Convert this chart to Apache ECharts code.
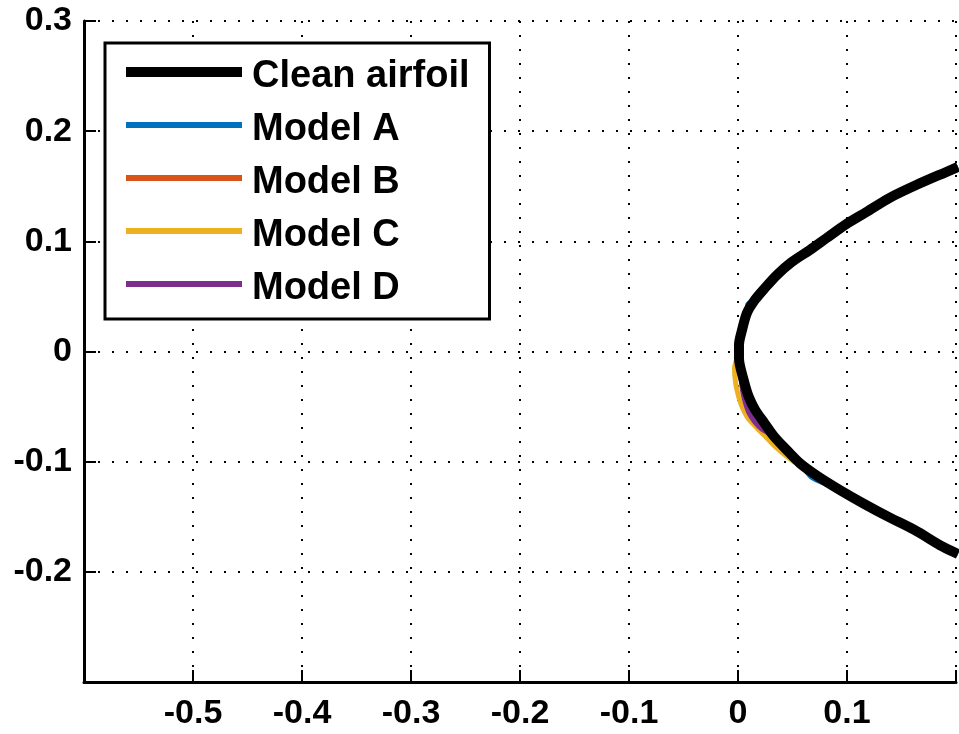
<!DOCTYPE html>
<html>
<head>
<meta charset="utf-8">
<script src="https://cdn.jsdelivr.net/npm/echarts@6/dist/echarts.min.js"></script>
<style>
  html, body { margin: 0; padding: 0; background: #ffffff; }
  #chart { width: 959px; height: 734px; }
</style>
</head>
<body>
<div id="chart"></div>
<script>
// Leading-edge region of the airfoil, upper surface (right to left) then lower surface
const cleanX = [0.2018, 0.1909, 0.1635, 0.1388, 0.1178, 0.0995, 0.0813, 0.0658, 0.0493, 0.0356, 0.0247, 0.0155, 0.0082, 0.0037, 0.0009,
                0.0009, 0.0052, 0.0098, 0.0158, 0.0244, 0.0332, 0.0447, 0.0569, 0.0737, 0.0934, 0.1148, 0.1376, 0.1619, 0.1878, 0.2018];
const cleanY = [0.1675, 0.1629, 0.1511, 0.1393, 0.1266, 0.1157, 0.1030, 0.0921, 0.0812, 0.0694, 0.0576, 0.0468, 0.0350, 0.0195, 0.0059,
                -0.0059, -0.0259, -0.0410, -0.0531, -0.0652, -0.0773, -0.0894, -0.1015, -0.1136, -0.1257, -0.1378, -0.1499, -0.1620, -0.1772, -0.1838];

// Ice shape predictions
const modelAX = [0.2018, 0.1909, 0.1635, 0.1388, 0.1178, 0.0995, 0.0813, 0.0658, 0.0493, 0.0356, 0.0247, 0.0155, 0.0091, 0.0082, 0.0037, 0.0009,
                 0.0009, 0.0052, 0.0098, 0.0158, 0.0244, 0.0332, 0.0447, 0.0569, 0.0667, 0.0731, 0.0934, 0.1148, 0.1376, 0.1619, 0.1878, 0.2018];
const modelAY = [0.1675, 0.1629, 0.1511, 0.1393, 0.1266, 0.1157, 0.1030, 0.0921, 0.0812, 0.0694, 0.0576, 0.0468, 0.0431, 0.0350, 0.0195, 0.0059,
                 -0.0059, -0.0259, -0.0410, -0.0531, -0.0652, -0.0773, -0.0894, -0.1015, -0.1134, -0.1171, -0.1257, -0.1378, -0.1499, -0.1620, -0.1772, -0.1838];

const modelBX = [0.2018, 0.1909, 0.1635, 0.1388, 0.1178, 0.0995, 0.0813, 0.0658, 0.0493, 0.0356, 0.0247, 0.0155, 0.0082, 0.0037, 0.0010,
                 0.0010, 0.0050, 0.0096, 0.0156, 0.0242, 0.0330, 0.0445, 0.0569, 0.0737, 0.0934, 0.1148, 0.1376, 0.1619, 0.1878, 0.2018];
const modelBY = [0.1675, 0.1629, 0.1511, 0.1393, 0.1266, 0.1157, 0.1030, 0.0921, 0.0812, 0.0694, 0.0576, 0.0468, 0.0350, 0.0195, 0.0059,
                 -0.0059, -0.0262, -0.0414, -0.0535, -0.0656, -0.0776, -0.0896, -0.1016, -0.1136, -0.1257, -0.1378, -0.1499, -0.1620, -0.1772, -0.1838];

const modelCX = [0.2018, 0.1909, 0.1635, 0.1388, 0.1178, 0.0995, 0.0813, 0.0658, 0.0493, 0.0356, 0.0247, 0.0155, 0.0082, 0.0037, 0.0009,
                 -0.0009, -0.0032, -0.0023, -0.0005, 0.0018, 0.0046, 0.0091, 0.0174, 0.0265, 0.0356, 0.0466, 0.0575,
                 0.0737, 0.0934, 0.1148, 0.1376, 0.1619, 0.1878, 0.2018];
const modelCY = [0.1675, 0.1629, 0.1511, 0.1393, 0.1266, 0.1157, 0.1030, 0.0921, 0.0812, 0.0694, 0.0576, 0.0468, 0.0350, 0.0195, 0.0059,
                 -0.0059, -0.0150, -0.0277, -0.0368, -0.0449, -0.0522, -0.0604, -0.0694, -0.0785, -0.0876, -0.0967, -0.1039,
                 -0.1136, -0.1257, -0.1378, -0.1499, -0.1620, -0.1772, -0.1838];

const modelDX = [0.2018, 0.1909, 0.1635, 0.1388, 0.1178, 0.0995, 0.0813, 0.0658, 0.0493, 0.0356, 0.0247, 0.0155, 0.0082, 0.0037, 0.0009,
                 0.0009, 0.0030, 0.0045, 0.0068, 0.0100, 0.0150, 0.0220,
                 0.0332, 0.0447, 0.0569, 0.0737, 0.0934, 0.1148, 0.1376, 0.1619, 0.1878, 0.2018];
const modelDY = [0.1675, 0.1629, 0.1511, 0.1393, 0.1266, 0.1157, 0.1030, 0.0921, 0.0812, 0.0694, 0.0576, 0.0468, 0.0350, 0.0195, 0.0059,
                 -0.0059, -0.0262, -0.0372, -0.0465, -0.0556, -0.0635, -0.0705,
                 -0.0773, -0.0894, -0.1015, -0.1136, -0.1257, -0.1378, -0.1499, -0.1620, -0.1772, -0.1838];

const seriesNames = ['Clean airfoil', 'Model A', 'Model B', 'Model C', 'Model D'];
const seriesColors = ['#000000', '#0072BD', '#D95319', '#EDB120', '#7E2F8E'];

const xTicks = [-0.6, 0.2, 0.1];   // min, max, step
const yTicks = [-0.3, 0.3, 0.1];

const FONT = "'Liberation Sans', Arial, Helvetica, sans-serif";

// Legend swatches: the bar sits in the upper half of a 116x20 box so the label reads slightly below it
const ICON_THICK = 'path://M0,0H116V10H0Z M0,20L1,20Z';
const ICON_THIN = 'path://M0,2H116V8H0Z M0,0L1,0Z M0,20L1,20Z';

function pairs(xs, ys) {
  return xs.map((x, i) => [x, ys[i]]);
}

function near(a, b) { return Math.abs(a - b) < 1e-9; }

const modelData = [
  pairs(modelAX, modelAY),
  pairs(modelBX, modelBY),
  pairs(modelCX, modelCY),
  pairs(modelDX, modelDY)
];

const series = [];
modelData.forEach((d, i) => {
  series.push({
    name: seriesNames[i + 1],
    type: 'line',
    data: d,
    showSymbol: false,
    smooth: 0.3,
    color: seriesColors[i + 1],
    lineStyle: { width: 5, color: seriesColors[i + 1] },
    z: 2
  });
});
series.push({
  name: seriesNames[0],
  type: 'line',
  data: pairs(cleanX, cleanY),
  showSymbol: false,
  smooth: 0.3,
  color: seriesColors[0],
  lineStyle: { width: 10, color: seriesColors[0] },
  z: 3
});

const gridLine = { show: true, lineStyle: { color: '#000', width: 2, type: [2, 12] } };

const chart = echarts.init(document.getElementById('chart'), null, { renderer: 'canvas' });
chart.setOption({
  animation: false,
  backgroundColor: '#ffffff',
  grid: { left: 84, top: 21, width: 876, height: 661, containLabel: false },
  xAxis: {
    type: 'value',
    min: xTicks[0], max: xTicks[1], interval: xTicks[2],
    axisLine: { show: true, onZero: false, lineStyle: { color: '#000', width: 3 } },
    axisTick: { show: true, inside: true, length: 12, lineStyle: { color: '#000', width: 2 } },
    axisLabel: {
      color: '#000', fontFamily: FONT, fontWeight: 'bold', fontSize: 34, margin: 15,
      formatter: v => (near(v, xTicks[0]) || near(v, xTicks[1])) ? '' : String(+v.toFixed(1))
    },
    splitLine: gridLine
  },
  yAxis: {
    type: 'value',
    min: yTicks[0], max: yTicks[1], interval: yTicks[2],
    axisLine: { show: true, onZero: false, lineStyle: { color: '#000', width: 3 } },
    axisTick: { show: true, inside: true, length: 12, lineStyle: { color: '#000', width: 2 } },
    axisLabel: {
      color: '#000', fontFamily: FONT, fontWeight: 'bold', fontSize: 34, margin: 12,
      formatter: v => near(v, yTicks[0]) ? '' : String(+v.toFixed(1))
    },
    splitLine: gridLine
  },
  legend: {
    orient: 'vertical',
    left: 105, top: 43,
    padding: [14, 20, 10, 21],
    backgroundColor: '#ffffff',
    borderColor: '#000', borderWidth: 3,
    itemWidth: 116, itemHeight: 20, itemGap: 13,
    selectedMode: false,
    textStyle: { color: '#000', fontFamily: FONT, fontWeight: 'bold', fontSize: 38, lineHeight: 40, padding: [0, 0, 0, 5] },
    data: [
      { name: seriesNames[0], icon: ICON_THICK },
      { name: seriesNames[1], icon: ICON_THIN },
      { name: seriesNames[2], icon: ICON_THIN },
      { name: seriesNames[3], icon: ICON_THIN },
      { name: seriesNames[4], icon: ICON_THIN }
    ]
  },
  series: series
});
</script>
</body>
</html>
